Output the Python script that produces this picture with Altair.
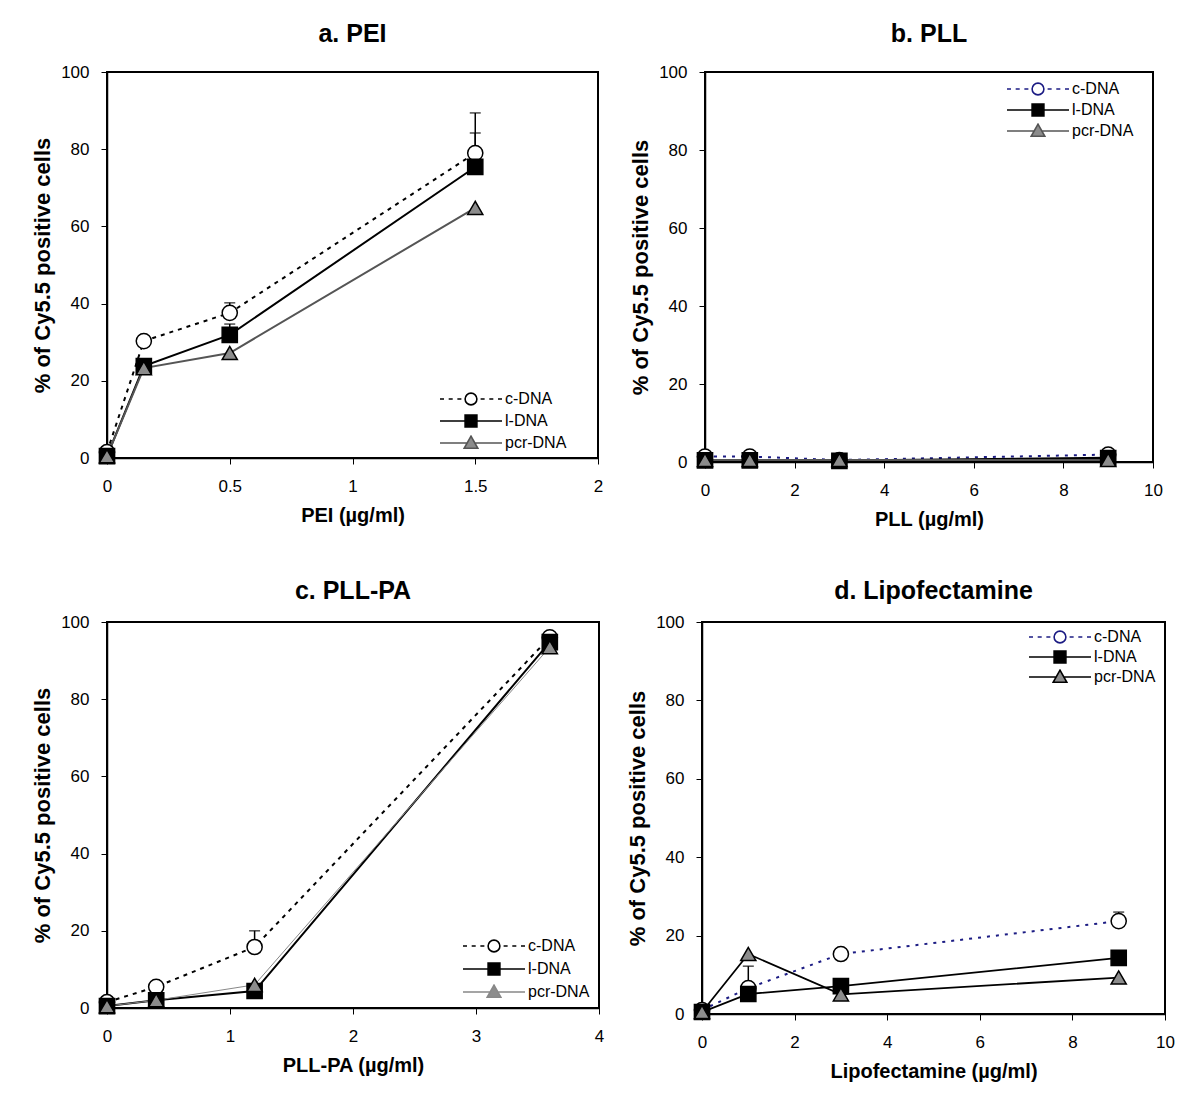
import altair as alt
import pandas as pd

FONT = "Liberation Sans, Arial, sans-serif"
SERIES = ["c-DNA", "l-DNA", "pcr-DNA"]
Y_TITLE = "% of Cy5.5 positive cells"
Y_TICKS = [0, 20, 40, 60, 80, 100]

# a. PEI
pei_x = [0, 0.15, 0.5, 1.5]
pei_c = [1.5, 30.3, 37.6, 79.0]
pei_l = [0.5, 23.8, 31.9, 75.4]
pei_pcr = [0.5, 23.3, 27.2, 64.8]
pei_c_top = [None, None, 40.2, 89.4]
pei_l_top = [None, None, 34.7, 84.2]
pei_ticks = [0, 0.5, 1, 1.5, 2]

# b. PLL
pll_x = [0, 1, 3, 9]
pll_c = [1.4, 1.4, 0.5, 1.9]
pll_l = [0.4, 0.4, 0.3, 1.0]
pll_pcr = [0.5, 0.5, 0.5, 0.5]
pll_ticks = [0, 2, 4, 6, 8, 10]

# c. PLL-PA
pa_x = [0, 0.4, 1.2, 3.6]
pa_c = [1.5, 5.5, 15.8, 96.0]
pa_l = [0.5, 2.0, 4.4, 94.8]
pa_pcr = [0.5, 2.0, 6.0, 93.5]
pa_c_top = [None, None, 20.0, None]
pa_ticks = [0, 1, 2, 3, 4]

# d. Lipofectamine
lipo_x = [0, 1, 3, 9]
lipo_c = [1.0, 6.6, 15.3, 23.7]
lipo_l = [0.5, 5.1, 7.1, 14.3]
lipo_pcr = [0.5, 15.3, 5.0, 9.3]
lipo_c_top = [None, 12.2, None, 26.0]
lipo_ticks = [0, 2, 4, 6, 8, 10]

# legend symbols: line + marker drawn as one path
DASHED = "M-1,0H-0.87M-0.72,0H-0.59M-0.44,0H-0.31M0.31,0H0.44M0.59,0H0.72M0.87,0H1"
P_CIRCLE = DASHED + "M0.19,0A0.19,0.19,0,1,1,-0.19,0A0.19,0.19,0,1,1,0.19,0Z"
P_SQUARE = "M-1,0H-0.19M0.19,0H1M-0.19,-0.19H0.19V0.19H-0.19Z"
P_TRI = "M-1,0H-0.11M0.11,0H1M0,-0.22L0.22,0.17L-0.22,0.17Z"
FILLS = ["white", "black", "#8c8c8c"]


def panel(title, xlab, xs, ys, tops, xdom, xticks, w, h, styles, leg, title_offset):
    rows = []
    for s, yv in zip(SERIES, ys):
        t = tops.get(s, [None] * len(xs))
        for x, y, tp in zip(xs, yv, t):
            rows.append({"series": s, "x": x, "y": y, "top": tp})
    df = pd.DataFrame(rows)
    xax = alt.Axis(values=xticks, format="~r", title=xlab, labelFlush=False)
    yax = alt.Axis(values=Y_TICKS, title=Y_TITLE, labelFlush=False)
    xs_ = alt.Scale(domain=xdom, nice=False, zero=False)
    ys_ = alt.Scale(domain=[0, 100], nice=False)
    X = alt.X("x:Q", scale=xs_, axis=xax)
    Y = alt.Y("y:Q", scale=ys_, axis=yax)
    base = alt.Chart(df)
    layers = []
    for s, st in zip(SERIES, styles):
        kw = dict(color=st["color"], strokeWidth=st["width"])
        if st.get("dash"):
            kw["strokeDash"] = st["dash"]
        layers.append(base.transform_filter(alt.datum.series == s).mark_line(**kw).encode(x=X, y=Y))
    err = base.transform_filter("isValid(datum.top)")
    layers.append(err.mark_rule(color="black", strokeWidth=1.5).encode(x=X, y=Y, y2="top:Q"))
    layers.append(err.mark_tick(orient="horizontal", color="black", size=11, thickness=1.5).encode(
        x=X, y=alt.Y("top:Q", scale=ys_, axis=yax)))
    layers.append(base.mark_point(filled=True, size=230, stroke="black", strokeWidth=1.5, opacity=1).encode(
        x=X, y=Y,
        shape=alt.Shape("series:N", scale=alt.Scale(domain=SERIES, range=["circle", "square", "triangle-up"]), legend=None),
        fill=alt.Fill("series:N", scale=alt.Scale(domain=SERIES, range=FILLS), legend=None),
    ))
    lp = dict(title=None, orient="none", legendX=leg[0], legendY=leg[1], symbolSize=3844,
              symbolStrokeWidth=1.6, clipHeight=16, rowPadding=leg[2], labelFontSize=16,
              labelFont=FONT, labelColor="black", labelOffset=2, symbolOpacity=1,
              symbolFillColor="white", symbolStrokeColor="black", padding=0, labelLimit=200)
    layers.append(base.transform_filter("false").mark_point(filled=True, strokeWidth=1.6).encode(
        x=X, y=Y,
        shape=alt.Shape("series:N", scale=alt.Scale(domain=SERIES, range=[P_CIRCLE, P_SQUARE, P_TRI]), legend=alt.Legend(**lp)),
        fill=alt.Fill("series:N", scale=alt.Scale(domain=SERIES, range=FILLS), legend=alt.Legend(**lp)),
        stroke=alt.Stroke("series:N", scale=alt.Scale(domain=SERIES, range=[st["color"] for st in styles]), legend=alt.Legend(**lp)),
    ))
    return alt.layer(*layers).resolve_scale(shape="independent", fill="independent", stroke="independent").properties(
        width=w, height=h, title=alt.Title(title, offset=title_offset))


NAVY = "#1c1c84"
a = panel("a. PEI", "PEI (\u00b5g/ml)", pei_x, [pei_c, pei_l, pei_pcr],
          {"c-DNA": pei_c_top, "l-DNA": pei_l_top}, [0, 2], pei_ticks, 491, 386,
          [{"color": "black", "width": 2, "dash": [4, 5]}, {"color": "black", "width": 2},
           {"color": "#555555", "width": 2}], (332, 319, 6), 16)
b = panel("b. PLL", "PLL (\u00b5g/ml)", pll_x, [pll_c, pll_l, pll_pcr],
          {}, [0, 10], pll_ticks, 448, 390,
          [{"color": NAVY, "width": 2, "dash": [3, 6]}, {"color": "black", "width": 2.5},
           {"color": "#555555", "width": 2}], (301, 9, 5), 16)
c = panel("c. PLL-PA", "PLL-PA (\u00b5g/ml)", pa_x, [pa_c, pa_l, pa_pcr],
          {"c-DNA": pa_c_top}, [0, 4], pa_ticks, 492, 386,
          [{"color": "black", "width": 2, "dash": [4, 5]}, {"color": "black", "width": 2},
           {"color": "#888888", "width": 1}], (355, 316, 7), 9)
d = panel("d. Lipofectamine", "Lipofectamine (\u00b5g/ml)", lipo_x, [lipo_c, lipo_l, lipo_pcr],
          {"c-DNA": lipo_c_top}, [0, 10], lipo_ticks, 463, 392,
          [{"color": NAVY, "width": 2, "dash": [3, 6]}, {"color": "black", "width": 1.8},
           {"color": "black", "width": 1.8}], (326, 7, 4), 9)

row1 = alt.hconcat(a, b, spacing=24)
row2 = alt.hconcat(c, d, spacing=20)
chart = alt.vconcat(row1, row2, spacing=48).properties(
    padding={"left": 22, "top": 13, "right": 5, "bottom": 5}
).configure(font=FONT).configure_view(stroke="black", strokeWidth=2).configure_axis(
    grid=False, domainColor="black", domainWidth=1.5, tickColor="black", tickSize=6, tickWidth=1,
    labelFontSize=17, labelColor="black", labelFont=FONT, titleFont=FONT, titleFontSize=20,
    titleFontWeight="bold", titleColor="black", labelOverlap=False
).configure_axisY(titleFontSize=22, labelPadding=12, titlePadding=6).configure_axisX(
    labelPadding=14, titlePadding=11
).configure_title(
    font=FONT, fontSize=25, fontWeight="bold", color="black", anchor="middle"
)

chart.save("out.html", embed_options={"renderer": "svg", "actions": False})
